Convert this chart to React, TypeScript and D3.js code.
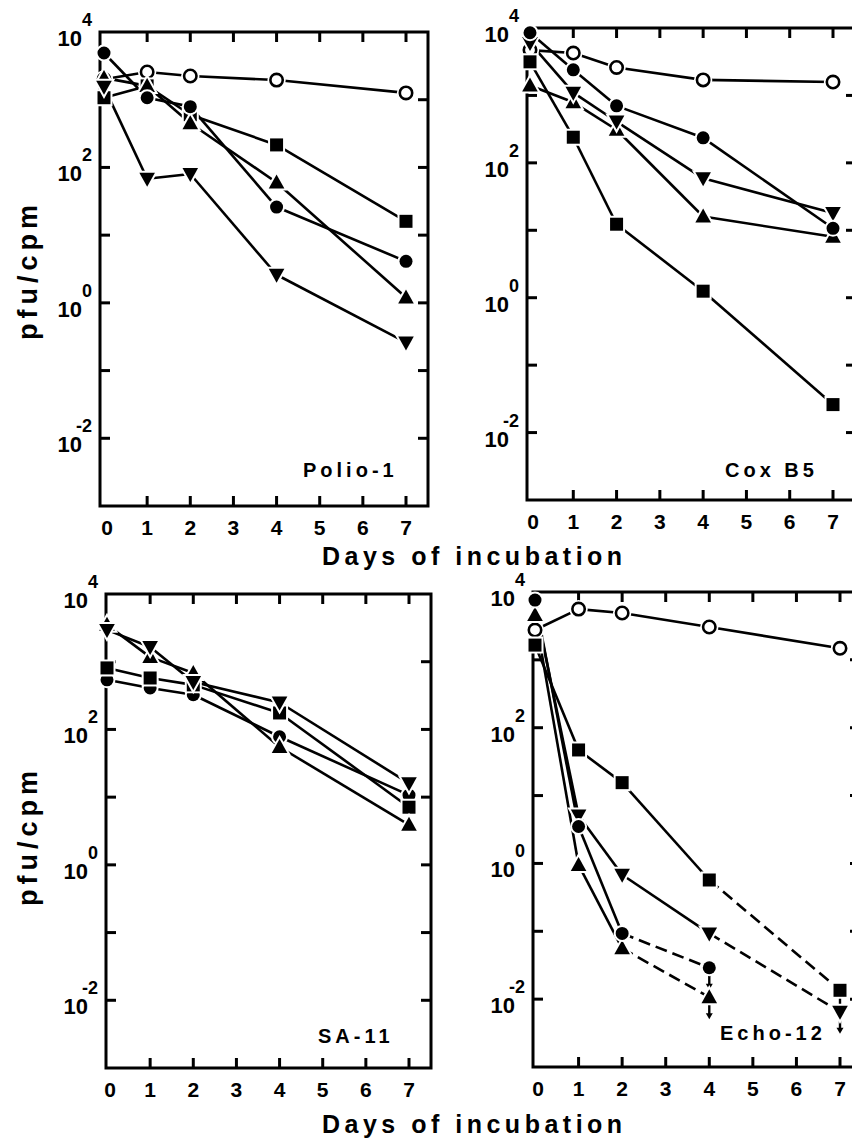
import React from 'react';
import * as d3 from 'd3';

// ---------- data ----------
const days = [0, 1, 2, 4, 7];
const xTickValues = [0, 1, 2, 3, 4, 5, 6, 7];
const yDecadeTicks = [1e-2, 1e-1, 1, 10, 100, 1000];
const yLabelExponents = [4, 2, 0, -2];
const yAxisTitle = 'pfu/cpm';
const xAxisTitle = 'Days of incubation';

// Polio-1
const polioOpen = [2000, 2570, 2240, 1950, 1260];
const polioCircle = [4900, 1070, 790, 26, 4.1];
const polioSquare = [1070, 1600, 600, 215, 16];
const polioUp = [2100, 1600, 450, 60, 1.2];
const polioDown = [1550, 68, 80, 2.6, 0.26];

// Cox B5
const coxOpen = [4700, 4250, 2600, 1700, 1580];
const coxCircle = [8500, 2400, 700, 235, 10.7];
const coxSquare = [3150, 240, 12.3, 1.25, 0.026];
const coxUp = [1400, 790, 310, 16, 8];
const coxDown = [6000, 1100, 410, 59, 18];

// SA-11
const saCircle = [540, 410, 325, 78, 10.7];
const saSquare = [810, 575, 455, 175, 7.1];
const saUp = [3500, 1170, 680, 55, 3.9];
const saDown = [2950, 1650, 500, 250, 16];

// Echo-12
const echoOpen = [2750, 5600, 4900, 3050, 1480];
const echoCircle = [7600, 3.5, 0.093, 0.029];
const echoSquare = [1650, 47, 15.5, 0.57, 0.0135];
const echoUp = [4600, 0.95, 0.056, 0.0107];
const echoDown = [6400, 5.1, 0.68, 0.093, 0.0065];

type Shape = 'open' | 'circle' | 'square' | 'up' | 'down';
// dashFrom: index of the first point whose following segment is dashed
// limitAt: index of the point carrying an "upper limit" arrow
type Series = { shape: Shape; values: number[]; dashFrom?: number; limitAt?: number };

const panels = [
  {
    name: 'Polio-1',
    frame: { left: 100, top: 32, right: 428, bottom: 506, x0: 104, x7: 406 },
    title: { x: 303, y: 477 },
    series: [
      { shape: 'open', values: polioOpen },
      { shape: 'square', values: polioSquare },
      { shape: 'up', values: polioUp },
      { shape: 'down', values: polioDown },
      { shape: 'circle', values: polioCircle },
    ] as Series[],
  },
  {
    name: 'Cox B5',
    frame: { left: 527, top: 28, right: 856, bottom: 500, x0: 530, x7: 833 },
    title: { x: 725, y: 477 },
    series: [
      { shape: 'open', values: coxOpen },
      { shape: 'square', values: coxSquare },
      { shape: 'up', values: coxUp },
      { shape: 'down', values: coxDown },
      { shape: 'circle', values: coxCircle },
    ] as Series[],
  },
  {
    name: 'SA-11',
    frame: { left: 106, top: 594, right: 431, bottom: 1068, x0: 107, x7: 409 },
    title: { x: 318, y: 1043 },
    series: [
      { shape: 'circle', values: saCircle },
      { shape: 'square', values: saSquare },
      { shape: 'up', values: saUp },
      { shape: 'down', values: saDown },
    ] as Series[],
  },
  {
    name: 'Echo-12',
    frame: { left: 533, top: 592, right: 860, bottom: 1067, x0: 535, x7: 840 },
    title: { x: 720, y: 1040 },
    series: [
      { shape: 'open', values: echoOpen },
      { shape: 'square', values: echoSquare, dashFrom: 3, limitAt: 4 },
      { shape: 'down', values: echoDown, dashFrom: 3, limitAt: 4 },
      { shape: 'up', values: echoUp, dashFrom: 2, limitAt: 3 },
      { shape: 'circle', values: echoCircle, dashFrom: 2, limitAt: 3 },
    ] as Series[],
  },
];

const FONT = '"Liberation Sans", Arial, Helvetica, sans-serif';

function markerPath(shape: Shape, cx: number, cy: number): string {
  const p = d3.path();
  if (shape === 'square') {
    p.rect(cx - 6.5, cy - 6.5, 13, 13);
  } else if (shape === 'up') {
    p.moveTo(cx, cy - 8);
    p.lineTo(cx + 7.8, cy + 6);
    p.lineTo(cx - 7.8, cy + 6);
    p.closePath();
  } else if (shape === 'down') {
    p.moveTo(cx, cy + 8);
    p.lineTo(cx + 7.8, cy - 6);
    p.lineTo(cx - 7.8, cy - 6);
    p.closePath();
  } else {
    p.arc(cx, cy, 6.5, 0, Math.PI * 2);
    p.closePath();
  }
  return p.toString();
}

function Panel({ panel }: { panel: (typeof panels)[number] }) {
  const f = panel.frame;
  const x = d3.scaleLinear().domain([0, 7]).range([f.x0, f.x7]);
  const y = d3.scaleLog().domain([1e-3, 1e4]).range([f.bottom, f.top]);
  const tickLen = 10;

  const lineGen = d3
    .line<[number, number]>()
    .x((d) => x(d[0]))
    .y((d) => y(d[1]));

  const segments: { d: string; dashed: boolean; key: string }[] = [];
  panel.series.forEach((s, si) => {
    for (let i = 0; i < s.values.length - 1; i++) {
      const pts: [number, number][] = [
        [days[i], s.values[i]],
        [days[i + 1], s.values[i + 1]],
      ];
      segments.push({
        d: lineGen(pts) as string,
        dashed: s.dashFrom !== undefined && i >= s.dashFrom,
        key: `${si}-${i}`,
      });
    }
  });

  return (
    <g>
      {/* frame */}
      <path
        d={`M${f.left},${f.top}H${f.right}V${f.bottom}H${f.left}Z`}
        fill="none"
        stroke="#000"
        strokeWidth={3}
      />
      {/* x ticks top and bottom */}
      {xTickValues
        .filter((v) => v > 0)
        .map((v) => (
          <g key={`xt${v}`}>
            <line x1={x(v)} x2={x(v)} y1={f.top} y2={f.top + tickLen} stroke="#000" strokeWidth={3} />
            <line x1={x(v)} x2={x(v)} y1={f.bottom} y2={f.bottom - tickLen} stroke="#000" strokeWidth={3} />
          </g>
        ))}
      {xTickValues.map((v) => (
        <text
          key={`xl${v}`}
          x={x(v) + (v === 0 ? 3 : 0)}
          y={f.bottom + 29}
          textAnchor="middle"
          fontFamily={FONT}
          fontWeight="bold"
          fontSize={21}
        >
          {v}
        </text>
      ))}
      {/* y ticks left and right */}
      {yDecadeTicks.map((v) => (
        <g key={`yt${v}`}>
          <line x1={f.left} x2={f.left + tickLen} y1={y(v)} y2={y(v)} stroke="#000" strokeWidth={3} />
          <line x1={f.right} x2={f.right - tickLen} y1={y(v)} y2={y(v)} stroke="#000" strokeWidth={3} />
        </g>
      ))}
      {yLabelExponents.map((e) => (
        <g key={`yl${e}`} fontFamily={FONT} fontWeight="bold">
          <text x={f.left - 18} y={y(Math.pow(10, e)) + 14} textAnchor="end" fontSize={22}>
            10
          </text>
          <text x={f.left - 8} y={y(Math.pow(10, e)) - 6} textAnchor="end" fontSize={18}>
            {e < 0 ? `-${-e}` : `${e}`}
          </text>
        </g>
      ))}
      {/* lines */}
      {segments.map((s) => (
        <path
          key={s.key}
          d={s.d}
          fill="none"
          stroke="#000"
          strokeWidth={2.6}
          strokeDasharray={s.dashed ? '12 6' : undefined}
        />
      ))}
      {/* limit arrows */}
      {panel.series
        .filter((s) => s.limitAt !== undefined)
        .map((s, i) => {
          const idx = s.limitAt as number;
          const cx = x(days[idx]);
          const cy = y(s.values[idx]);
          const tip = cy + 22;
          return (
            <g key={`ar${i}`}>
              <line x1={cx} x2={cx} y1={cy} y2={tip - 4} stroke="#000" strokeWidth={2.4} />
              <path d={`M${cx - 3.5},${tip - 6}L${cx + 3.5},${tip - 6}L${cx},${tip}Z`} fill="#000" />
            </g>
          );
        })}
      {/* markers */}
      {panel.series.map((s, si) =>
        s.values.map((v, i) => {
          const cx = x(days[i]);
          const cy = y(v);
          if (s.shape === 'open') {
            return (
              <g key={`m${si}-${i}`}>
                <circle cx={cx} cy={cy} r={6.2} fill="#fff" stroke="#fff" strokeWidth={6} />
                <circle cx={cx} cy={cy} r={6.2} fill="#fff" stroke="#000" strokeWidth={2.6} />
              </g>
            );
          }
          return (
            <path
              key={`m${si}-${i}`}
              d={markerPath(s.shape, cx, cy)}
              fill="#000"
              stroke="#fff"
              strokeWidth={4}
              style={{ paintOrder: 'stroke' }}
            />
          );
        })
      )}
      {/* panel title */}
      <text
        x={panel.title.x}
        y={panel.title.y}
        fontFamily={FONT}
        fontWeight="bold"
        fontSize={20}
        letterSpacing={4}
      >
        {panel.name}
      </text>
    </g>
  );
}

export default function App() {
  return (
    <svg
      width={852}
      height={1139}
      style={{ position: 'absolute', left: 0, top: 0, display: 'block', background: '#fff' }}
    >
      <rect x={0} y={0} width={852} height={1139} fill="#fff" />
      {panels.map((p) => (
        <Panel key={p.name} panel={p} />
      ))}
      {[270, 836].map((cy) => (
        <text
          key={`yt${cy}`}
          transform={`translate(37,${cy}) rotate(-90)`}
          textAnchor="middle"
          fontFamily={FONT}
          fontWeight="bold"
          fontSize={27}
          letterSpacing={5}
        >
          {yAxisTitle}
        </text>
      ))}
      {[565, 1133].map((by) => (
        <text
          key={`xt${by}`}
          x={322}
          y={by}
          fontFamily={FONT}
          fontWeight="bold"
          fontSize={25}
          letterSpacing={4.5}
        >
          {xAxisTitle}
        </text>
      ))}
    </svg>
  );
}
